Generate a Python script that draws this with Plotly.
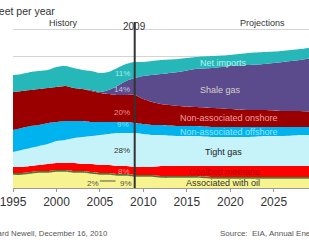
import plotly.graph_objects as go

years = [1995, 1996, 1997, 1998, 1999, 2000, 2001, 2002, 2003, 2004, 2005, 2006, 2007, 2008, 2009,
         2010, 2011, 2012, 2014, 2016, 2018, 2020, 2022, 2024, 2026, 2028, 2030]

associated_oil = [2.50, 2.50, 2.69, 2.88, 2.88, 3.07, 3.07, 2.88, 2.88, 2.69, 2.50, 2.50, 2.31, 2.31, 2.12,
                  2.12, 2.12, 1.93, 1.93, 1.93, 1.74, 1.74, 1.74, 1.74, 1.74, 1.74, 1.74]
alaska = [0.35] * 27
coalbed = [1.14, 1.14, 1.14, 1.14, 1.33, 1.33, 1.33, 1.52, 1.33, 1.52, 1.52, 1.52, 1.52, 1.52, 1.52,
           1.52, 1.52, 1.90, 1.90, 1.90, 2.09, 2.09, 2.09, 2.09, 2.09, 2.09, 2.09]
tight = [2.85, 3.23, 3.42, 3.61, 3.80, 4.17, 4.36, 4.74, 5.12, 5.31, 5.69, 5.88, 6.26, 6.26, 6.45,
         6.26, 6.07, 5.88, 5.69, 5.69, 5.50, 5.50, 5.50, 5.69, 5.69, 5.88, 5.88]
offshore = [4.17, 4.17, 4.17, 3.98, 3.98, 3.61, 3.61, 3.23, 3.04, 2.66, 2.47, 2.28, 2.09, 2.09, 1.90,
            1.90, 1.90, 1.90, 1.90, 1.90, 1.90, 1.90, 1.90, 1.71, 1.71, 1.52, 1.52]
onshore = [7.21, 7.02, 6.83, 6.83, 6.64, 6.64, 6.64, 6.26, 6.07, 5.88, 5.50, 5.31, 5.12, 5.12, 5.31,
           4.74, 4.36, 3.98, 3.80, 3.61, 3.61, 3.42, 3.23, 3.23, 3.04, 3.04, 2.85]
shale = [0, 0, 0, 0, 0, 0, 0, 0, 0, 0.19, 0.19, 0.76, 1.71, 2.66, 3.23,
         4.36, 5.12, 5.69, 6.45, 7.21, 7.59, 8.16, 8.54, 8.73, 9.30, 9.68, 10.44]
net_imports = [3.23, 3.23, 3.42, 3.42, 3.42, 3.80, 3.80, 3.80, 3.61, 3.61, 3.61, 3.42, 3.42, 3.23, 3.04,
               2.66, 2.66, 2.66, 2.47, 2.28, 2.28, 2.09, 2.28, 2.28, 2.09, 2.09, 1.90]

series = [
    ("Associated with oil", associated_oil, "#f7f38f"),
    ("Alaska", alaska, "#4d7a32"),
    ("Coalbed methane", coalbed, "#ff0000"),
    ("Tight gas", tight, "#c6f3fa"),
    ("Non-associated offshore", offshore, "#00b2ee"),
    ("Non-associated onshore", onshore, "#9a0000"),
    ("Shale gas", shale, "#5b4a8c"),
    ("Net imports", net_imports, "#26b8b8"),
]

fig = go.Figure()
for name, vals, col in series:
    fig.add_trace(go.Scatter(
        x=years, y=vals, name=name, stackgroup="one", mode="lines",
        line=dict(width=0, shape="spline", smoothing=0.6), fillcolor=col,
        hoverinfo="skip"))

F = "Liberation Sans, Arial, sans-serif"

def ann(text, x, y, color, size=9, xanchor="center", xref="x", yref="y"):
    fig.add_annotation(text=text, x=x, y=y, xref=xref, yref=yref, showarrow=False,
                       xanchor=xanchor, yanchor="middle",
                       font=dict(family=F, size=size, color=color))

# percent labels at 2009
ann("11%", 2007.6, 21.8, "#a8e8e8", 8)
ann("14%", 2007.5, 18.6, "#c8c0e0", 8)
ann("20%", 2007.5, 14.4, "#f09090", 8)
ann("9%", 2007.7, 12.0, "#80e0ff", 8)
ann("28%", 2007.5, 7.2, "#333333", 8)
ann("8%", 2007.8, 3.2, "#ff9a9a", 8)
ann("2%", 2004.2, 0.76, "#555555", 8)
ann("9%", 2008.0, 0.76, "#555555", 8)
fig.add_shape(type="line", x0=2005.0, x1=2006.8, y0=1.33, y1=1.33,
              line=dict(color="#555555", width=1))

# series labels
ann("Net imports", 2019.2, 23.7, "#b8f0f0")
ann("Shale gas", 2018.9, 18.6, "#d8d0c8")
ann("Non-associated onshore", 2019.8, 13.3, "#f0a0a0")
ann("Non-associated offshore", 2019.8, 10.6, "#90e8ff")
ann("Tight gas", 2019.2, 6.8, "#222222")
ann("Coalbed methane", 2019.3, 3.0, "#b00000")
ann("Associated with oil", 2019.2, 0.95, "#333333")

# header labels
ann("History", 2000.8, 31.3, "#333333", 9)
ann("Projections", 2023.7, 31.3, "#333333", 9)
ann("2009", 2009, 30.7, "#333333", 10)
ann("Trillion cubic feet per year", 0.1495, 1.066, "#333333", 10.5, xanchor="right",
    xref="paper", yref="paper")

# footer
ann("Richard Newell, December 16, 2010", 0.329, -0.277, "#555555", 7.8, xanchor="right",
    xref="paper", yref="paper")
ann("Source:  EIA, Annual Energy Outlook 2011", 0.691, -0.277, "#555555", 8, xanchor="left",
    xref="paper", yref="paper")

fig.add_shape(type="line", x0=2009, x1=2009, y0=0, y1=1, yref="paper",
              line=dict(color="#333333", width=2))

fig.update_layout(
    width=309, height=240,
    margin=dict(l=8, r=0, t=22, b=52),
    paper_bgcolor="white", plot_bgcolor="white",
    showlegend=False,
    xaxis=dict(range=[1995, 2029.05], tickvals=[1995, 2000, 2005, 2010, 2015, 2020, 2025, 2030],
               showgrid=False, zeroline=False, showline=True, linecolor="#999999",
               ticks="outside", ticklen=3, tickcolor="#999999", ticklabeloverflow="allow",
               tickfont=dict(family=F, size=12, color="#333333")),
    yaxis=dict(range=[0, 31.5], dtick=5, showgrid=True, gridcolor="#d4d4d4",
               showticklabels=False, zeroline=False, showline=False),
)

fig.write_html("out.html", config={"displayModeBar": False},
               post_script="document.body.style.margin='0';document.body.style.overflow='hidden';")
